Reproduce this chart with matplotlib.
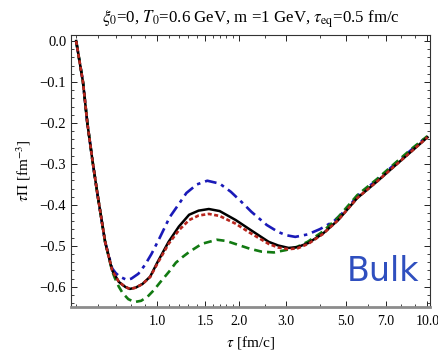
import numpy as np
import matplotlib
matplotlib.use('Agg')
import matplotlib.pyplot as plt
from matplotlib.ticker import FixedLocator, FixedFormatter, MultipleLocator

plt.rcParams['font.family'] = 'Liberation Serif'
plt.rcParams['mathtext.fontset'] = 'stix'
plt.rcParams['lines.scale_dashes'] = False

# tau [fm/c] and tau*Pi [fm^-3] for the four solutions
tau_exact = [0.50, 0.53, 0.55, 0.577, 0.60, 0.64, 0.68, 0.72, 0.76, 0.79, 0.83, 0.88, 0.94,
             1.0, 1.1, 1.2, 1.31, 1.42, 1.55, 1.7, 1.95, 2.2, 2.58, 2.8, 3.06, 3.3, 3.62,
             4.1, 4.67, 5.5, 6.5, 7.5, 8.7, 10.0]
pi_exact = [0.0, -0.10, -0.20, -0.30, -0.375, -0.49, -0.56, -0.588, -0.600, -0.605, -0.602,
            -0.593, -0.575, -0.54, -0.49, -0.453, -0.424, -0.414, -0.41, -0.415, -0.437,
            -0.46, -0.49, -0.499, -0.505, -0.503, -0.493, -0.47, -0.437, -0.383, -0.343,
            -0.307, -0.270, -0.235]

tau_red = tau_exact
pi_red = [0.0, -0.10, -0.20, -0.30, -0.375, -0.49, -0.56, -0.588, -0.600, -0.605, -0.602,
          -0.593, -0.576, -0.543, -0.495, -0.462, -0.437, -0.426, -0.422, -0.427, -0.446,
          -0.468, -0.495, -0.504, -0.508, -0.506, -0.495, -0.471, -0.437, -0.383, -0.343,
          -0.307, -0.270, -0.235]

tau_blue = [0.50, 0.53, 0.55, 0.577, 0.60, 0.64, 0.68, 0.70, 0.725, 0.77, 0.80, 0.85, 0.90,
            0.95, 1.02, 1.11, 1.2, 1.28, 1.4, 1.53, 1.7, 1.87, 2.05, 2.23, 2.54, 2.8, 3.0,
            3.24, 3.6, 4.0, 4.5, 5.08, 5.5, 6.5, 7.5, 8.7, 10.0]
pi_blue = [0.0, -0.10, -0.20, -0.30, -0.375, -0.49, -0.555, -0.566, -0.575, -0.583, -0.58,
           -0.568, -0.546, -0.52, -0.48, -0.43, -0.398, -0.371, -0.35, -0.341, -0.348,
           -0.368, -0.393, -0.417, -0.449, -0.466, -0.474, -0.478, -0.472, -0.459, -0.44,
           -0.407, -0.378, -0.339, -0.303, -0.266, -0.232]

tau_green = [0.50, 0.53, 0.55, 0.577, 0.60, 0.64, 0.68, 0.695, 0.72, 0.743, 0.78, 0.823, 0.87,
             0.919, 0.97, 1.02, 1.107, 1.17, 1.24, 1.31, 1.46, 1.66, 1.8, 2.0, 2.2, 2.43,
             2.7, 3.0, 3.3, 3.6, 4.1, 4.67, 5.5, 6.5, 7.5, 8.7, 10.0]
pi_green = [0.0, -0.10, -0.20, -0.30, -0.375, -0.49, -0.562, -0.578, -0.60, -0.615, -0.630,
            -0.637, -0.634, -0.624, -0.608, -0.59, -0.562, -0.541, -0.527, -0.515, -0.495,
            -0.485, -0.488, -0.498, -0.507, -0.514, -0.516, -0.51, -0.502, -0.49, -0.465,
            -0.43, -0.376, -0.337, -0.301, -0.264, -0.232]

xticks = [1.0, 1.5, 2.0, 3.0, 5.0, 7.0, 10.0]
xticklabels = ['1.0', '1.5', '2.0', '3.0', '5.0', '7.0', '10.0']

fig = plt.figure(figsize=(4.39, 3.5), dpi=100)
ax = fig.add_axes([0.162, 0.123, 0.817, 0.777])

ax.plot(tau_exact, pi_exact, color='black', lw=1.8, zorder=3)
ax.plot(tau_blue, pi_blue, color='#1a1ab8', lw=1.9, dashes=(8.5, 3.6, 2.5, 3.6), zorder=2)
ax.plot(tau_green, pi_green, color='#127a12', lw=1.9, dashes=(5.8, 3.6), zorder=2)
ax.plot(tau_red, pi_red, color='#b8261e', lw=1.9, dashes=(2.9, 1.8), zorder=4)

ax.set_xscale('log')
ax.set_xlim(0.479, 10.2)
ax.set_ylim(-0.649, 0.0146)

ax.xaxis.set_major_locator(FixedLocator(xticks))
ax.xaxis.set_major_formatter(FixedFormatter(xticklabels))
ax.xaxis.set_minor_locator(FixedLocator([0.5, 0.6, 0.7, 0.8, 0.9, 1.1, 1.2, 1.3, 1.4, 1.6,
                                         1.7, 1.8, 1.9, 2.5, 4.0, 6.0, 8.0, 9.0]))
ax.xaxis.set_minor_formatter(FixedFormatter([]))
ax.yaxis.set_major_locator(MultipleLocator(0.1))
ax.yaxis.set_minor_locator(MultipleLocator(0.02))
ax.yaxis.set_major_formatter(plt.FuncFormatter(lambda v, p: f'{v:.1f}'.replace('-', '\u2212')))

ax.tick_params(which='both', direction='in', top=True, right=True, labelsize=10.5,
               colors='#222222', labelcolor='black')
ax.tick_params(axis='x', labelsize=10, pad=6)
ax.tick_params(which='major', length=4, width=0.7)
ax.tick_params(which='minor', length=2, width=0.6)

for side in ['top', 'left', 'right']:
    ax.spines[side].set_linewidth(0.8)
    ax.spines[side].set_color('#333333')
ax.spines['bottom'].set_linewidth(2.0)
ax.spines['bottom'].set_color('#8c8c8c')

ax.set_xlabel(r'$\tau$ [fm/c]', fontsize=11, labelpad=4)
ax.set_ylabel(r'$\tau\Pi$ [fm$^{-3}$]', fontsize=11, labelpad=5)
ax.set_title(r'$\xi_0$=0, $T_0$=0.6 GeV, m =1 GeV, $\tau_{\rm eq}$=0.5 fm/c',
             fontsize=12.2, pad=9)

ax.text(0.97, 0.07, 'Bulk', transform=ax.transAxes, ha='right', va='bottom',
        fontsize=24, color='#2f4fbf', family='DejaVu Sans')

fig.savefig('out.png', dpi=100)
